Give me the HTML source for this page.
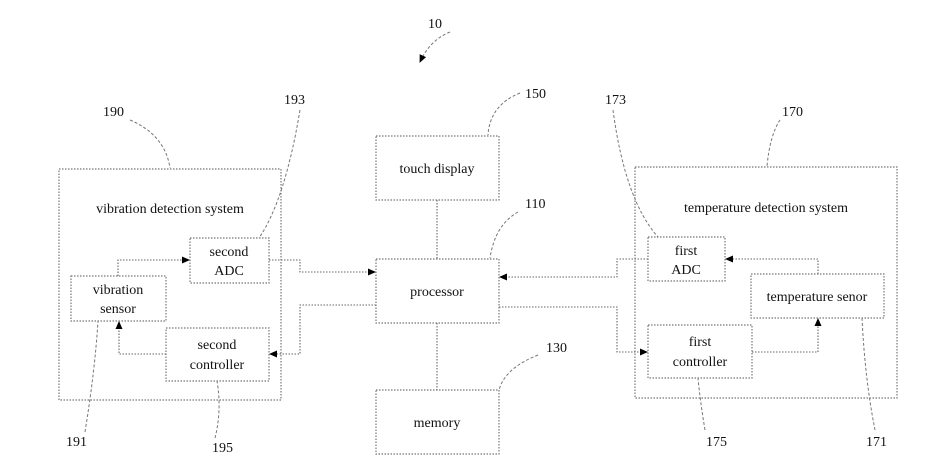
<!DOCTYPE html>
<html><head><style>
html,body{margin:0;padding:0;background:#fff;}
svg{display:block;}
text{font-family:"Liberation Serif",serif;font-size:14px;fill:#111;}
.b{fill:none;stroke:#777;stroke-width:1.2;stroke-dasharray:1.5 1.5;}
.l{fill:none;stroke:#666;stroke-width:1.1;stroke-dasharray:1.5 1.5;}
.d{fill:none;stroke:#777;stroke-width:1;stroke-dasharray:3 2;}
</style></head><body>
<svg width="930" height="476" viewBox="0 0 930 476">
<defs><marker id="a" markerWidth="8" markerHeight="8" refX="7" refY="4" orient="auto" markerUnits="userSpaceOnUse"><path d="M0,0.5 L8,4 L0,7.5Z" fill="#000"/></marker></defs>
<rect class="b" x="376" y="136" width="123" height="64"/>
<text x="437" y="173" text-anchor="middle">touch display</text>
<rect class="b" x="376" y="259" width="123" height="64"/>
<text x="437" y="296" text-anchor="middle">processor</text>
<rect class="b" x="376" y="390" width="123" height="64"/>
<text x="437" y="427" text-anchor="middle">memory</text>
<path class="l" d="M437 200V259M437 323V390"/>
<rect class="b" x="59" y="169" width="222" height="231"/>
<text x="170" y="213" text-anchor="middle">vibration detection system</text>
<rect class="b" x="190" y="238" width="79" height="45"/>
<text x="229" y="256" text-anchor="middle">second</text>
<text x="229" y="275" text-anchor="middle">ADC</text>
<rect class="b" x="71" y="276" width="95" height="45"/>
<text x="118" y="294" text-anchor="middle">vibration</text>
<text x="118" y="313" text-anchor="middle">sensor</text>
<rect class="b" x="166" y="328" width="103" height="53"/>
<text x="217" y="349" text-anchor="middle">second</text>
<text x="217" y="369" text-anchor="middle">controller</text>
<path class="l" d="M118 276V260H189" marker-end="url(#a)"/>
<path class="l" d="M269 260H300V272H375" marker-end="url(#a)"/>
<path class="l" d="M376 305H300V354H270" marker-end="url(#a)"/>
<path class="l" d="M166 354H119V322" marker-end="url(#a)"/>
<rect class="b" x="635" y="167" width="262" height="231"/>
<text x="766" y="212" text-anchor="middle">temperature detection system</text>
<rect class="b" x="648" y="237" width="77" height="44"/>
<text x="686" y="255" text-anchor="middle">first</text>
<text x="686" y="274" text-anchor="middle">ADC</text>
<rect class="b" x="751" y="274" width="133" height="44"/>
<text x="817" y="301" text-anchor="middle">temperature senor</text>
<rect class="b" x="648" y="325" width="104" height="53"/>
<text x="700" y="346" text-anchor="middle">first</text>
<text x="700" y="366" text-anchor="middle">controller</text>
<path class="l" d="M818 274V259H726" marker-end="url(#a)"/>
<path class="l" d="M648 259H617V277H500" marker-end="url(#a)"/>
<path class="l" d="M499 307H617V352H647" marker-end="url(#a)"/>
<path class="l" d="M752 352H818V319" marker-end="url(#a)"/>
<text x="428" y="28">10</text>
<path class="d" d="M450 32Q430 40 420 62" marker-end="url(#a)"/>
<text x="525" y="98">150</text>
<path class="d" d="M520 93Q490 105 488 135"/>
<text x="525" y="208">110</text>
<path class="d" d="M518 212Q495 225 490 258"/>
<text x="546" y="352">130</text>
<path class="d" d="M538 355Q505 368 499 390"/>
<text x="103" y="116">190</text>
<path class="d" d="M130 120Q165 135 170 168"/>
<text x="284" y="104">193</text>
<path class="d" d="M300 110Q285 200 259 238"/>
<text x="605" y="104">173</text>
<path class="d" d="M613 110Q625 200 658 237"/>
<text x="782" y="116">170</text>
<path class="d" d="M780 120Q770 135 767 166"/>
<text x="66" y="446">191</text>
<path class="d" d="M85 432Q95 370 98 321"/>
<text x="212" y="452">195</text>
<path class="d" d="M215 438Q222 410 217 381"/>
<text x="706" y="446">175</text>
<path class="d" d="M705 430Q700 400 698 378"/>
<text x="866" y="446">171</text>
<path class="d" d="M875 430Q865 380 862 318"/>
</svg>
</body></html>
